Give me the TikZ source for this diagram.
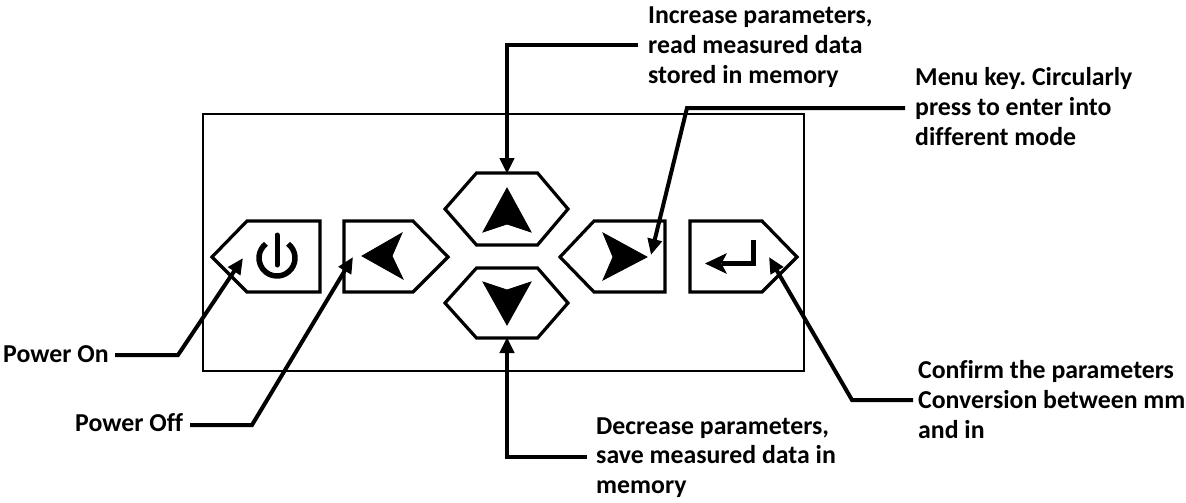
\documentclass[tikz,border=0pt]{standalone}
\usepackage{fontspec}
\setmainfont[Ligatures=NoCommon]{Carlito}
\usetikzlibrary{arrows.meta}
\begin{document}
\frenchspacing
\begin{tikzpicture}[x=1pt,y=-1pt,
  keyline/.style={line width=3.2pt,line join=miter},
  glyph/.style={fill=black,draw=black,line width=0.8pt,line join=miter},
  conn/.style={line width=4pt,-{Triangle[length=16pt,width=14pt]}},
  lbl/.style={inner sep=0pt,align=left,anchor=north west,
    font=\fontsize{25.8}{30}\selectfont\bfseries},
  lbl1/.style={inner sep=0pt,anchor=base west,
    font=\fontsize{25.8}{30}\selectfont\bfseries}]
\useasboundingbox (0,0) rectangle (1186,503);
% panel
\draw[line width=1.5pt] (203,114) rectangle (804,371);
% keys
\draw[keyline] (212,257) -- (247,221) -- (320,221) -- (320,292) -- (247,292) -- cycle;
\draw[keyline] (344,221) -- (413,221) -- (448,257) -- (413,292) -- (344,292) -- cycle;
\draw[keyline] (445,209) -- (476.5,173) -- (537.5,173) -- (568,209) -- (537.5,245) -- (476.5,245) -- cycle;
\draw[keyline] (445,303) -- (476.5,268) -- (537.5,268) -- (568,303) -- (537.5,338) -- (476.5,338) -- cycle;
\draw[keyline] (560,257) -- (594,221) -- (665,221) -- (665,292) -- (594,292) -- cycle;
\draw[keyline] (690,221) -- (762,221) -- (797,257) -- (762,292) -- (690,292) -- cycle;
% glyphs
\draw[line width=5.5pt] (277,258) ++(-52:18) arc[start angle=-52,end angle=232,radius=18];
\draw[line width=5pt,line cap=round] (277,235) -- (277,265);
\draw[glyph] (362,256) -- (402,233) -- (392,256) -- (403,279) -- cycle;
\draw[glyph] (507,188) -- (531,232) -- (507,224) -- (483,232) -- cycle;
\draw[glyph] (507,325) -- (531,282) -- (507,290) -- (483,282) -- cycle;
\draw[glyph] (647,257) -- (603,233) -- (613,257) -- (603,280) -- cycle;
\draw[line width=4.5pt] (753.5,240) -- (753.5,263.5) -- (722,263.5);
\draw[glyph] (706,263.5) -- (726,254) -- (721,263.5) -- (726,273) -- cycle;
% labels
\node[lbl] (lblUp) at (648,3) {\rule{0pt}{20pt}Increase parameters,\\read measured data\\stored in memory};
\node[lbl] (lblMenu) at (915,65) {\rule{0pt}{20pt}Menu key. Circularly\\press to enter into\\different mode};
\node[lbl,font=\fontsize{25.8}{29.5}\selectfont\bfseries] (lblDown) at (596,414) {\rule{0pt}{20pt}Decrease parameters,\\save measured data in\\memory};
\node[lbl] (lblEnter) at (918,358) {\rule{0pt}{20pt}Confirm the parameters\\Conversion between mm\\and in};
\node[lbl1] (lblOn) at (3,362) {Power On};
\node[lbl1] (lblOff) at (75,431) {Power Off};
% connector points
\coordinate (sUp) at (638,45);   \coordinate (bUp) at (507,45);   \coordinate (tUp) at (507,174);
\coordinate (sMenu) at (905,108); \coordinate (bMenu) at (687,108); \coordinate (tMenu) at (651,255);
\coordinate (sDown) at (587,457); \coordinate (bDown) at (507,457); \coordinate (tDown) at (507,337);
\coordinate (sEnter) at (913,400); \coordinate (bEnter) at (852,400); \coordinate (tEnter) at (769,257);
\coordinate (sOn) at (115,355); \coordinate (bOn) at (178,355); \coordinate (tOn) at (243,258);
\coordinate (sOff) at (190,425); \coordinate (bOff) at (252,425); \coordinate (tOff) at (353,257);
% connectors
\draw[conn] (sUp) -- (bUp) -- (tUp);
\draw[conn] (sMenu) -- (bMenu) -- (tMenu);
\draw[conn] (sDown) -- (bDown) -- (tDown);
\draw[conn] (sEnter) -- (bEnter) -- (tEnter);
\draw[conn] (sOn) -- (bOn) -- (tOn);
\draw[conn] (sOff) -- (bOff) -- (tOff);
\end{tikzpicture}
\end{document}
